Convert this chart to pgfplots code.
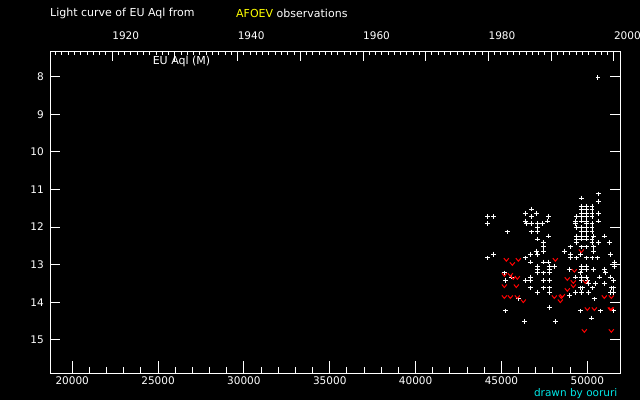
\documentclass[border=0pt]{standalone}
\usepackage{pgfplots}
\pgfplotsset{compat=1.18}
\usepackage{fontspec}
\setmainfont{DejaVu Sans}
\definecolor{titleyellow}{RGB}{255,255,0}
\definecolor{drawncyan}{RGB}{0,230,230}
\pgfdeclareplotmark{vee}{%
  \pgfpathmoveto{\pgfqpoint{-2.5pt}{1.6pt}}%
  \pgfpathlineto{\pgfqpoint{0pt}{-1.4pt}}%
  \pgfpathlineto{\pgfqpoint{2.5pt}{1.6pt}}%
  \pgfusepathqstroke}
\pgfplotsset{
  base/.style={
    at={(50pt,27pt)}, anchor=south west,
    width=570pt, height=322pt, scale only axis,
    xmin=18707, xmax=51904, ymin=7.32, ymax=15.88, y dir=reverse,
    axis line style={white, line width=1pt},
    every tick/.style={white, line width=1pt},
    tick label style={white, font=\fontsize{10.5}{12}\selectfont},
    /pgf/number format/assume math mode=true,
    /pgf/number format/set thousands separator={},
    scaled x ticks=false, scaled y ticks=false,
    tick align=inside,
  }
}
\begin{document}
\begin{tikzpicture}
\path[use as bounding box, clip] (0,0) rectangle (640pt,400pt);
\fill[black] (0,0) rectangle (640pt,400pt);
% main data axis with bottom ticks
\begin{axis}[base,
  xtick={20000,25000,...,50000}, minor x tick num=4,
  xtick pos=bottom,
  major tick length=12pt, minor tick length=6pt,
  xticklabel style={anchor=north, inner sep=0pt, yshift=-3.5pt},
  ytick=\empty,
  clip=true]
\addplot[only marks, mark=+, mark size=2.4pt, white, line width=1pt] coordinates {
(50642,11.12)
(49652,11.23)
(50642,11.33)
(49652,11.45)(49963,11.45)(50273,11.45)
(46740,11.52)(49652,11.52)(49963,11.52)(50273,11.52)
(46391,11.63)(47031,11.63)(49652,11.63)(49963,11.63)(50273,11.63)(50642,11.63)
(44177,11.73)(44527,11.73)(46740,11.73)(47730,11.73)(49361,11.73)(49652,11.73)(49963,11.73)(50273,11.73)
(46391,11.84)(47672,11.84)(49302,11.84)(49652,11.84)(49963,11.84)(50642,11.84)
(44177,11.91)(46449,11.91)(46740,11.91)(47089,11.91)(47381,11.91)(49302,11.91)(49963,11.91)(50273,11.91)
(47089,12.02)(49361,12.02)(49652,12.02)(49963,12.02)(50273,12.02)
(45342,12.13)(46740,12.13)(47089,12.13)(49652,12.13)(49963,12.13)(50273,12.13)
(47730,12.24)(49361,12.24)(49652,12.24)(49963,12.24)(50351,12.24)(50991,12.24)
(47089,12.32)(49361,12.32)(49652,12.32)(49963,12.32)(50273,12.32)
(47439,12.42)(49361,12.42)(50273,12.42)(50642,12.42)(51282,12.42)
(47439,12.53)(49011,12.53)(49652,12.53)(49963,12.53)(50351,12.53)
(47031,12.64)(47439,12.64)(48662,12.64)(50351,12.64)
(44527,12.72)(46682,12.72)(47089,12.72)(49011,12.72)(49593,12.72)(51340,12.72)
(44177,12.82)(46391,12.82)(49011,12.82)(49361,12.82)(49963,12.82)(50273,12.82)(50584,12.82)
(46682,12.93)(47439,12.93)(47730,12.93)(51574,12.93)
(47089,13.04)(47788,13.04)(48080,13.04)(49652,13.04)(49963,13.04)(51574,13.04)
(47089,13.12)(47788,13.12)(48953,13.12)(49652,13.12)(49963,13.12)(50351,13.12)(50991,13.12)
(45168,13.22)(47089,13.22)(47439,13.22)(47788,13.22)(49593,13.22)(51049,13.22)
(45575,13.33)(46682,13.33)(49302,13.33)(49652,13.33)(49963,13.33)(50700,13.33)(51340,13.33)
(45226,13.43)(46391,13.43)(46682,13.43)(47439,13.43)(47788,13.43)(49652,13.43)(50001,13.43)(51515,13.43)
(50060,13.51)(50467,13.51)(50991,13.51)
(46682,13.62)(47439,13.62)(47788,13.62)(49593,13.62)(49710,13.62)(50292,13.62)(51398,13.62)(51515,13.62)
(47089,13.73)(47788,13.73)(49302,13.73)(49652,13.73)(50060,13.73)(51340,13.73)(51515,13.73)
(48953,13.83)
(45983,13.91)(50409,13.91)
(47788,14.13)
(45226,14.23)(49593,14.23)(50758,14.23)(51515,14.23)
(50234,14.42)
(46332,14.52)(48138,14.52)
(50622,8.03)
};
\addplot[only marks, mark=vee, red, line width=1pt] coordinates {
(45284,12.87)(45634,12.98)(45983,12.87)(48138,12.87)
(45168,13.27)(45517,13.27)(45692,13.35)(45925,13.35)
(45168,13.57)(45866,13.57)
(49244,13.16)(48836,13.38)(49186,13.46)(49186,13.57)(49885,13.46)(49652,12.64)(48836,13.67)
(45168,13.86)(45517,13.86)(45925,13.86)(46274,13.97)
(48080,13.86)(48487,13.86)(48545,13.83)(48429,13.97)
(50991,13.86)(51398,13.86)
(50001,14.18)(50409,14.18)(51340,14.18)(51398,14.18)
(49827,14.76)(51398,14.76)
};
\end{axis}
% y ticks on both sides
\begin{axis}[base,
  xtick=\empty,
  ytick={8,...,15}, ytick pos=both, yticklabel pos=left,
  major tick length=10pt,
  yticklabel style={anchor=east, inner sep=0pt, xshift=-6pt}]
\end{axis}
% top year axis
\begin{axis}[base,
  xmin=1910.09, xmax=2000.98,
  axis x line*=top, hide y axis,
  xtick={1910,1920,...,2000},
  xticklabels={,1920,,1940,,1960,,1980,,2000},
  minor x tick num=9,
  major tick length=10pt, minor tick length=4pt,
  xticklabel style={anchor=south west, inner sep=0pt, yshift=11pt}]
\end{axis}
\node[anchor=west, inner sep=0pt, white, font=\fontsize{11}{13}\selectfont] at (50pt,386.5pt) {Light curve of EU Aql from};
\node[anchor=west, inner sep=0pt, font=\fontsize{11}{13}\selectfont] at (236pt,386.5pt) {\textcolor{titleyellow}{AFOEV} \textcolor{white}{observations}};
\node[white, inner sep=0pt, font=\fontsize{11}{13}\selectfont] at (181.5pt,339pt) {EU Aql (M)};
\node[anchor=east, inner sep=0pt, drawncyan, font=\fontsize{10.5}{12}\selectfont] at (617.5pt,6.5pt) {drawn by ooruri};
\end{tikzpicture}
\end{document}
